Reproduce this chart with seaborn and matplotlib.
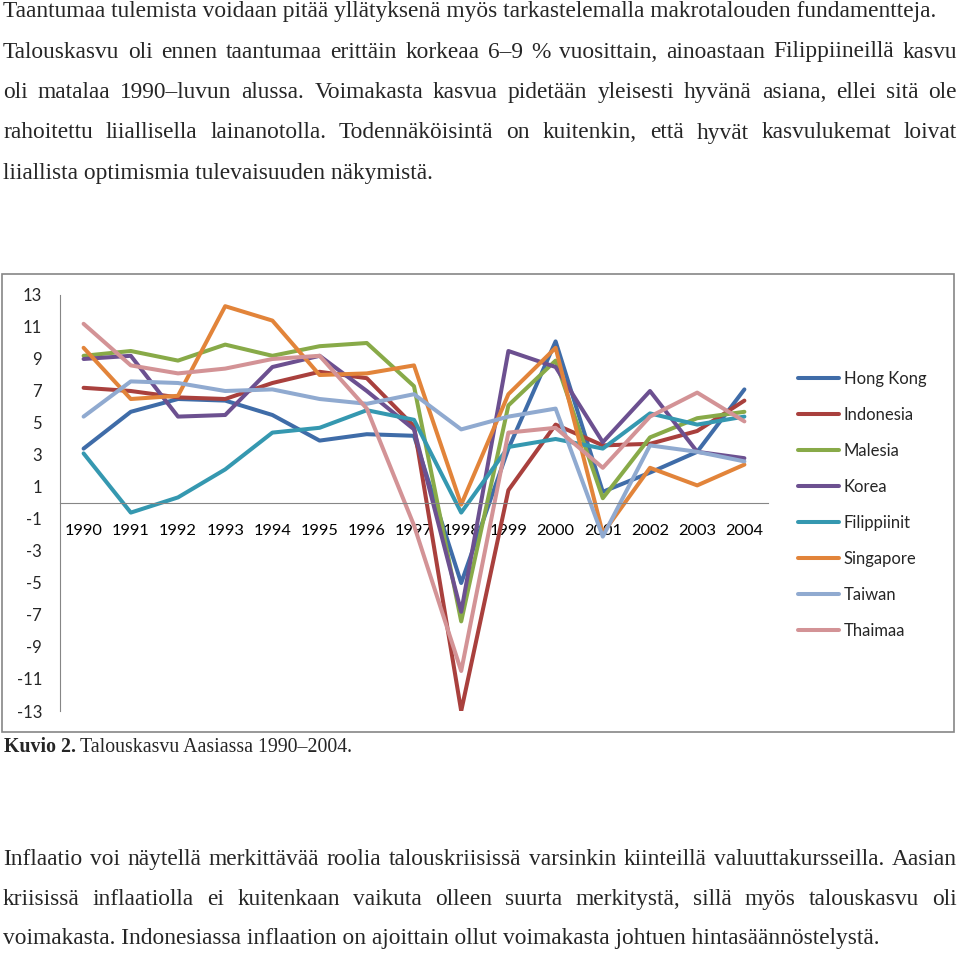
import matplotlib
matplotlib.use("Agg")
import matplotlib.pyplot as plt
import numpy as np
import pandas as pd
import seaborn as sns
from matplotlib.patches import Rectangle

# growth data (% per year)
years = [str(y) for y in range(1990, 2005)]
hong_kong = [3.4, 5.7, 6.5, 6.4, 5.5, 3.9, 4.3, 4.2, -5.0, 3.4, 10.1, 0.7, 1.9, 3.2, 7.1]
indonesia = [7.2, 7.0, 6.6, 6.5, 7.5, 8.2, 7.8, 4.8, -13.0, 0.8, 4.9, 3.6, 3.7, 4.5, 6.4]
malesia = [9.2, 9.5, 8.9, 9.9, 9.2, 9.8, 10.0, 7.3, -7.4, 6.1, 8.9, 0.3, 4.1, 5.3, 5.7]
korea = [9.0, 9.2, 5.4, 5.5, 8.5, 9.2, 7.0, 4.6, -6.8, 9.5, 8.5, 3.8, 7.0, 3.2, 2.8]
filippiinit = [3.1, -0.6, 0.35, 2.1, 4.4, 4.7, 5.8, 5.2, -0.6, 3.5, 4.0, 3.4, 5.6, 4.9, 5.4]
singapore = [9.7, 6.5, 6.7, 12.3, 11.4, 8.0, 8.1, 8.6, -0.1, 6.8, 9.7, -1.9, 2.2, 1.1, 2.4]
taiwan = [5.4, 7.6, 7.5, 7.0, 7.1, 6.5, 6.2, 6.8, 4.6, 5.4, 5.9, -2.1, 3.6, 3.2, 2.6]
thaimaa = [11.2, 8.6, 8.1, 8.4, 9.0, 9.2, 5.9, -1.4, -10.5, 4.4, 4.7, 2.2, 5.4, 6.9, 5.1]

countries = ["Hong Kong", "Indonesia", "Malesia", "Korea",
             "Filippiinit", "Singapore", "Taiwan", "Thaimaa"]
colors = ["#3F6CA8", "#A9403D", "#88AA48", "#6C5090",
          "#3598B0", "#E2843A", "#90AAD0", "#D39396"]
yticks = list(range(-13, 14, 2))

top_lines = [
    "Taantumaa tulemista voidaan pitää yllätyksenä myös tarkastelemalla makrotalouden fundamentteja.",
    "Talouskasvu oli ennen taantumaa erittäin korkeaa 6–9 % vuosittain, ainoastaan Filippiineillä kasvu",
    "oli matalaa 1990–luvun alussa. Voimakasta kasvua pidetään yleisesti hyvänä asiana, ellei sitä ole",
    "rahoitettu liiallisella lainanotolla. Todennäköisintä on kuitenkin, että hyvät kasvulukemat loivat",
    "liiallista optimismia tulevaisuuden näkymistä.",
]
bottom_lines = [
    "Inflaatio voi näytellä merkittävää roolia talouskriisissä varsinkin kiinteillä valuuttakursseilla. Aasian",
    "kriisissä inflaatiolla ei kuitenkaan vaikuta olleen suurta merkitystä, sillä myös talouskasvu oli",
    "voimakasta. Indonesiassa inflaation on ajoittain ollut voimakasta johtuen hintasäännöstelystä.",
]

series = [hong_kong, indonesia, malesia, korea, filippiinit, singapore, taiwan, thaimaa]
df = pd.DataFrame({c: v for c, v in zip(countries, series)})
df["idx"] = np.arange(len(years))
long = df.melt(id_vars="idx", var_name="maa", value_name="kasvu")

W, H = 960, 956
sns.set_style("white")
plt.rcParams["font.family"] = ["Lato", "DejaVu Sans"]
fig = plt.figure(figsize=(W / 100, H / 100), dpi=100)
ax = fig.add_axes([60 / W, 1 - 711 / H, (768 - 60) / W, (711 - 295) / H])

sns.lineplot(data=long, x="idx", y="kasvu", hue="maa", hue_order=countries,
             palette=colors, linewidth=2.9, ax=ax, legend=True)
for ln in ax.get_lines():
    ln.set_solid_joinstyle("round")
    ln.set_solid_capstyle("round")

gray = "#868686"
ax.set_xlim(-0.5, len(years) - 0.5)
ax.set_ylim(-13, 13)
ax.set_yticks(yticks)
ax.set_yticklabels([str(t) for t in yticks])
ax.set_xticks(np.arange(-0.5, len(years), 1.0))
ax.set_xticklabels([])
ax.set_xticks(np.arange(len(years)), minor=True)
ax.set_xticklabels(years, minor=True)
ax.tick_params(axis="x", which="major", direction="out", length=4, color=gray, width=1)
ax.tick_params(axis="x", which="minor", length=0, pad=15, labelsize=11.8, colors="black")
ax.tick_params(axis="y", direction="in", length=4, color=gray, width=1, pad=13, labelsize=12)
for s in ["top", "right"]:
    ax.spines[s].set_visible(False)
ax.spines["bottom"].set_position(("data", 0))
ax.spines["bottom"].set_color(gray)
ax.spines["left"].set_color(gray)
ax.set_xlabel("")
ax.set_ylabel("")
ax.grid(False)

leg = ax.legend(loc="upper left", bbox_to_anchor=(798 / W, 1 - 371 / H),
                bbox_transform=fig.transFigure, frameon=False, fontsize=12,
                handlelength=2.45, handletextpad=0.3, labelspacing=1.2,
                borderpad=0, borderaxespad=0)
for h in leg.get_lines():
    h.set_linewidth(2.9)

# chart frame
fig.patches.append(Rectangle((2 / W, 1 - 732 / H), 952 / W, 458 / H, transform=fig.transFigure,
                             fill=False, edgecolor=gray, linewidth=1.2))

# surrounding document text
renderer = fig.canvas.get_renderer()
serif = "Liberation Serif"
L, R = 3, 957


def paragraph(lines, y0, step, size):
    for i, line in enumerate(lines):
        y = 1 - (y0 + i * step) / H
        if i == len(lines) - 1 or i == 0 and lines is top_lines:
            fig.text(L / W, y, line, family=serif, fontsize=size, va="baseline")
            continue
        words = line.split(" ")
        arts = [fig.text(0, y, w, family=serif, fontsize=size, va="baseline") for w in words]
        widths = [a.get_window_extent(renderer).width for a in arts]
        gap = (R - L - sum(widths)) / (len(words) - 1)
        x = L
        for a, wd in zip(arts, widths):
            a.set_x(x / W)
            x += wd + gap


paragraph(top_lines, 17, 40.5, 16.8)
paragraph(bottom_lines, 865, 39.7, 16.8)

fig.text(4 / W, 1 - 751.5 / H, "Kuvio 2.", family=serif, fontsize=14.3,
         fontweight="bold", va="baseline")
fig.text(80 / W, 1 - 751.5 / H, "Talouskasvu Aasiassa 1990–2004.", family=serif,
         fontsize=14.3, va="baseline")

fig.savefig("out.png", dpi=100)
